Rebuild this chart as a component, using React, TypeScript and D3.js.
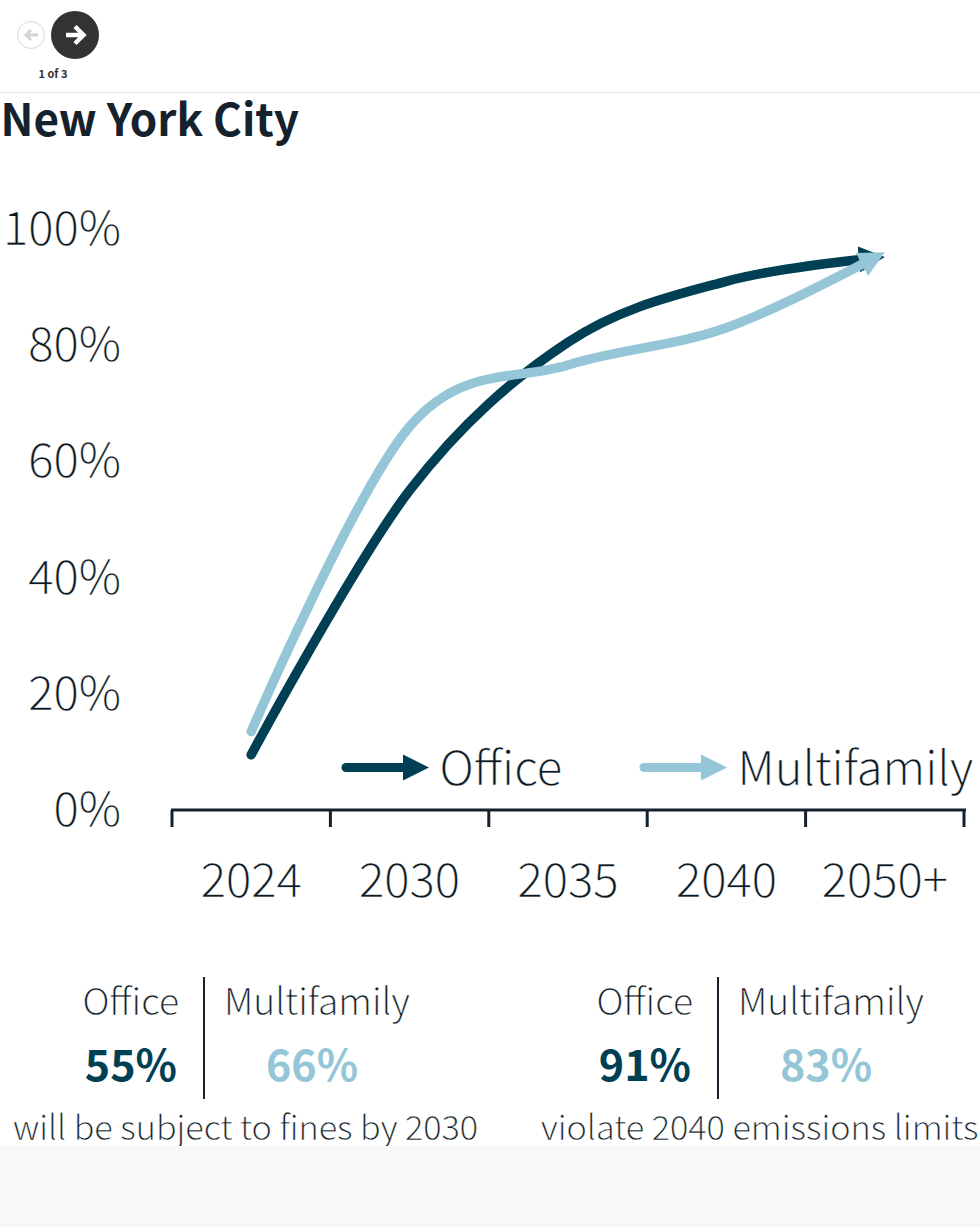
import React from "react";
import * as d3 from "d3";

const categories = ["2024", "2030", "2035", "2040", "2050+"];
const office = [9.5, 55, 80.5, 91, 95.2];
const multifamily = [13.5, 66, 76.6, 83, 96];
const yTicks = [0, 20, 40, 60, 80, 100];
const stats = [
  { cx: 204, office: "55%", multi: "66%", note: "will be subject to fines by 2030", noteX: 13 },
  { cx: 718, office: "91%", multi: "83%", note: "violate 2040 emissions limits", noteX: 541 },
];
const DARK = "#013f55";
const LIGHT = "#94c6d7";
const INK = "#15222e";
const FONT = "'Noto Sans CJK SC', 'Noto Sans', sans-serif";

const x = d3.scaleBand<string>().domain(categories).range([172, 964]);
const y = d3.scaleLinear().domain([0, 100]).range([810, 229]);
const line = d3
  .line<number>()
  .x((_, i) => x(categories[i])! + x.bandwidth() / 2)
  .y((d) => y(d))
  .curve(d3.curveCardinal.tension(0));

function T(p: any) {
  const { children, ...rest } = p;
  return (
    <text fontFamily={FONT} fontWeight={300} fill="#0c1822" stroke="#fff" strokeWidth={0.35} {...rest}>
      {children}
    </text>
  );
}

function B(p: any) {
  const { children, ...rest } = p;
  return (
    <text fontFamily={FONT} fontWeight={700} fill={INK} {...rest}>
      {children}
    </text>
  );
}

export default function App() {
  return (
    <svg
      width={980}
      height={1227}
      style={{ position: "absolute", left: 0, top: 0, display: "block" }}
    >
      <defs>
        <marker id="ad" markerUnits="userSpaceOnUse" markerWidth="30" markerHeight="30" refX="26" refY="14" orient="auto">
          <path d="M0,1 L26,14 L0,27 Z" fill={DARK} />
        </marker>
        <marker id="al" markerUnits="userSpaceOnUse" markerWidth="30" markerHeight="30" refX="26" refY="14" orient="auto">
          <path d="M0,1 L26,14 L0,27 Z" fill={LIGHT} />
        </marker>
      </defs>
      <rect width={980} height={1227} fill="#fff" />
      <line x1={0} x2={980} y1={92.5} y2={92.5} stroke="#e6e6e6" />

      <circle cx={31} cy={35} r={13.5} fill="#fff" stroke="#d8d8d8" />
      <path d="M38,35 H27 M31,30 L26,35 L31,40" fill="none" stroke="#d4d4d4" strokeWidth={3} />
      <circle cx={75} cy={35} r={24} fill="#333" />
      <path d="M66,35 H82 M75,26.5 L83.5,35 L75,43.5" fill="none" stroke="#fff" strokeWidth={4.5} />
      <text x={53} y={78} textAnchor="middle" fontFamily={FONT} fontSize={11} fontWeight={700} fill="#333">1 of 3</text>

      <B x={0.5} y={136} fontSize={44}>New York City</B>

      {yTicks.map((t) => (
        <T key={t} x={121} y={y(t) + 16} fontSize={47.2} textAnchor="end">{t}%</T>
      ))}

      <line x1={171} x2={966} y1={810} y2={810} stroke={INK} strokeWidth={3} />
      {[...categories.map((c) => x(c)!), 964].map((v, i) => (
        <line key={i} x1={v} x2={v} y1={810} y2={827} stroke={INK} strokeWidth={3} />
      ))}
      {categories.map((c) => (
        <T key={c} x={x(c)! + x.bandwidth() / 2} y={897} fontSize={47.2} textAnchor="middle">{c}</T>
      ))}

      <path d={line(office)!} fill="none" stroke={DARK} strokeWidth={9.5} strokeLinecap="round" pathLength={1000} strokeDasharray="985 1000" markerEnd="url(#ad)" />
      <path d={line(multifamily)!} fill="none" stroke={LIGHT} strokeWidth={9.5} strokeLinecap="round" pathLength={1000} strokeDasharray="985 1000" markerEnd="url(#al)" />

      <line x1={346} x2={429} y1={767.5} y2={767.5} stroke={DARK} strokeWidth={9} strokeLinecap="round" pathLength={1000} strokeDasharray="820 1000" markerEnd="url(#ad)" />
      <T x={439.5} y={785} fontSize={47.2}>Office</T>
      <line x1={644} x2={727} y1={767.5} y2={767.5} stroke={LIGHT} strokeWidth={9} strokeLinecap="round" pathLength={1000} strokeDasharray="820 1000" markerEnd="url(#al)" />
      <T x={737.5} y={785} fontSize={47.2}>Multifamily</T>

      {stats.map((s) => (
        <g key={s.note}>
          <line x1={s.cx} x2={s.cx} y1={977} y2={1099} stroke={INK} strokeWidth={2} />
          <T x={s.cx - 25} y={1015} fontSize={37.2} textAnchor="end">Office</T>
          <T x={s.cx + 20} y={1015} fontSize={37.2}>Multifamily</T>
          <B x={s.cx - 27} y={1081} fontSize={43} textAnchor="end" fill={DARK}>{s.office}</B>
          <B x={s.cx + 62} y={1081} fontSize={43} fill={LIGHT}>{s.multi}</B>
          <T x={s.noteX} y={1140} fontSize={34.2}>{s.note}</T>
        </g>
      ))}
      <rect y={1146} width={980} height={81} fill="#f8f8f8" />
    </svg>
  );
}
